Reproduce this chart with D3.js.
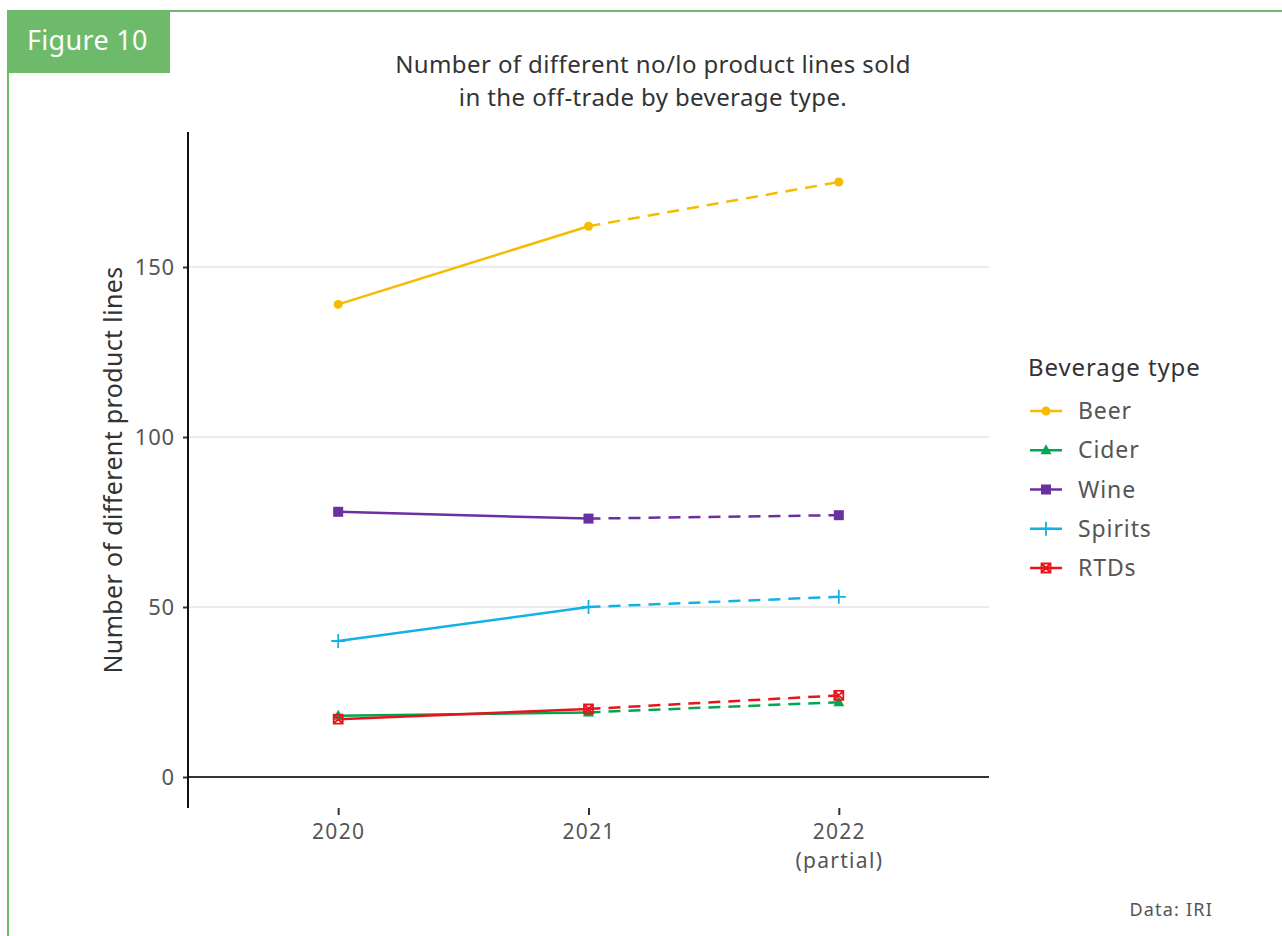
<!DOCTYPE html>
<html><head><meta charset="utf-8">
<script src="https://cdn.jsdelivr.net/npm/d3@7"></script>
<style>body{margin:0;background:#fff;} text{font-family:"Noto Sans",sans-serif;}</style>
</head><body>
<svg id="c" width="1282" height="936"></svg>
<script>
const years = ["2020", "2021", "2022"];
const yearLabels = [["2020"], ["2021"], ["2022", "(partial)"]];
const seriesNames = ["Beer", "Cider", "Wine", "Spirits", "RTDs"];
const beer = [139, 162, 175];
const cider = [18, 19, 22];
const wine = [78, 76, 77];
const spirits = [40, 50, 53];
const rtds = [17, 20, 24];
const yTicks = [0, 50, 100, 150];
const colors = ["#F6BB00", "#00A651", "#6A2FA0", "#14B1E7", "#E8141B"];
const shapes = ["circle", "triangle", "square", "plus", "squarecross"];
const values = [beer, cider, wine, spirits, rtds];

const svg = d3.select("#c");
const green = "#6DBB6A";
const FONT = "'Noto Sans',sans-serif";
// frame
svg.append("line").attr("x1",7).attr("x2",1282).attr("y1",11).attr("y2",11).attr("stroke",green).attr("stroke-width",2);
svg.append("line").attr("x1",8).attr("x2",8).attr("y1",11).attr("y2",936).attr("stroke",green).attr("stroke-width",2);
svg.append("rect").attr("x",7).attr("y",10).attr("width",163).attr("height",63).attr("fill",green);
svg.append("text").attr("x",27).attr("y",50).attr("fill","#fff").attr("font-size",27).attr("letter-spacing",0.3).text("Figure 10");

// title
const title = svg.append("text").attr("text-anchor","middle").attr("fill","#333").attr("font-size",24).attr("letter-spacing",0.4);
title.append("tspan").attr("x",653).attr("y",73).text("Number of different no/lo product lines sold");
title.append("tspan").attr("x",653).attr("y",106).text("in the off-trade by beverage type.");

const left = 188, right = 989;
const x = d3.scalePoint().domain(years).range([left, right]).padding(0.6);
const y = d3.scaleLinear().domain([0, 150]).range([777, 267]);

// gridlines
svg.append("g").selectAll("line").data(yTicks.filter(d=>d>0)).join("line")
  .attr("x1",left).attr("x2",right).attr("y1",d=>y(d)).attr("y2",d=>y(d))
  .attr("stroke","#EBEBEB").attr("stroke-width",2);
// zero line
svg.append("line").attr("x1",left).attr("x2",right).attr("y1",y(0)).attr("y2",y(0)).attr("stroke","#333").attr("stroke-width",2);

// y axis
const yAxis = d3.axisLeft(y).tickValues(yTicks).tickSize(5).tickPadding(8);
const gy = svg.append("g").attr("transform",`translate(${left},0)`).call(yAxis);
gy.select(".domain").remove();
gy.append("line").attr("x1",0).attr("x2",0).attr("y1",132).attr("y2",808).attr("stroke","#111").attr("stroke-width",2);
gy.selectAll(".tick line").attr("stroke","#333").attr("stroke-width",2);
gy.selectAll(".tick text").attr("fill","#555").attr("font-size",22).attr("letter-spacing",0.8).attr("font-family",FONT);

// x axis
const xAxis = d3.axisBottom(x).tickSize(7).tickFormat(()=> "");
const gx = svg.append("g").attr("transform","translate(0,808)").call(xAxis);
gx.select(".domain").remove();
gx.selectAll(".tick line").attr("stroke","#333").attr("stroke-width",2);
gx.selectAll(".tick").each(function(d,i){
  yearLabels[i].forEach((s,j)=> d3.select(this).append("text").attr("fill","#555").attr("font-size",21).attr("letter-spacing",1.3)
    .attr("text-anchor","middle").attr("font-family",FONT).attr("x",0).attr("y",31+j*29).text(s));
});

// y title
svg.append("text").attr("transform","translate(122,470) rotate(-90)").attr("text-anchor","middle")
  .attr("fill","#333").attr("font-size",25).attr("letter-spacing",0.35).text("Number of different product lines");

function drawMarker(g, shape, cx, cy, color){
  if(shape==="circle") g.append("circle").attr("cx",cx).attr("cy",cy).attr("r",4.5).attr("fill",color);
  else if(shape==="triangle") g.append("path").attr("d",`M${cx},${cy-6}L${cx+5.5},${cy+4}L${cx-5.5},${cy+4}Z`).attr("fill",color);
  else if(shape==="square") g.append("rect").attr("x",cx-5).attr("y",cy-5).attr("width",10).attr("height",10).attr("fill",color);
  else if(shape==="plus") g.append("path").attr("d",`M${cx-7},${cy}H${cx+7}M${cx},${cy-7}V${cy+7}`).attr("stroke",color).attr("stroke-width",1.8).attr("fill","none");
  else if(shape==="squarecross") g.append("path").attr("d",`M${cx-4.5},${cy-4.5}h9v9h-9ZM${cx-4.5},${cy-4.5}L${cx+4.5},${cy+4.5}M${cx+4.5},${cy-4.5}L${cx-4.5},${cy+4.5}`).attr("stroke",color).attr("stroke-width",1.8).attr("fill","none");
}

const line = d3.line().x(d=>x(d[0])).y(d=>y(d[1]));
const plot = svg.append("g");
seriesNames.forEach((name, si)=>{
  const vals = values[si];
  const pts = years.map((yr,i)=>[yr, vals[i]]);
  plot.append("path").attr("d",line(pts.slice(0,2))).attr("fill","none").attr("stroke",colors[si]).attr("stroke-width",2.5);
  plot.append("path").attr("d",line(pts.slice(1,3))).attr("fill","none").attr("stroke",colors[si]).attr("stroke-width",2.5).attr("stroke-dasharray","12,8");
});
seriesNames.forEach((name, si)=>{
  const vals = values[si];
  years.forEach((yr,i)=> drawMarker(plot, shapes[si], x(yr), y(vals[i]), colors[si]));
});

// legend
const lg = svg.append("g");
lg.append("text").attr("x",1028).attr("y",376).attr("fill","#333").attr("font-size",24).attr("letter-spacing",0.9).text("Beverage type");
seriesNames.forEach((name, si)=>{
  const cy = 411 + si*39.25;
  lg.append("line").attr("x1",1030).attr("x2",1062).attr("y1",cy).attr("y2",cy).attr("stroke",colors[si]).attr("stroke-width",2.5);
  drawMarker(lg, shapes[si], 1046, cy, colors[si]);
  lg.append("text").attr("x",1078).attr("y",cy+8).attr("fill","#555").attr("font-size",23).attr("letter-spacing",0.9).text(name);
});

svg.append("text").attr("x",1213).attr("y",916).attr("text-anchor","end").attr("fill","#555").attr("font-size",18).attr("letter-spacing",1.2).text("Data: IRI");
</script>
</body></html>
